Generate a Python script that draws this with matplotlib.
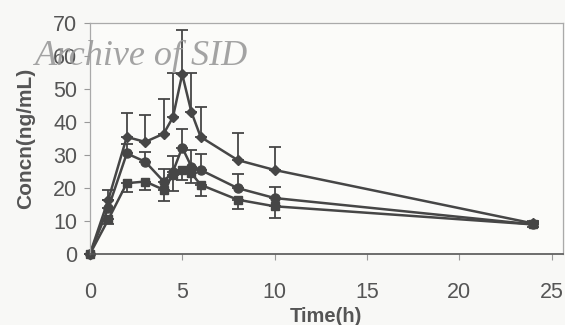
import matplotlib
matplotlib.use("Agg")
import matplotlib.pyplot as plt

time_h = [0, 1, 2, 3, 4, 4.5, 5, 5.5, 6, 8, 10, 24]

upper = [0, 16.5, 35.5, 34, 36.5, 41.5, 54.5, 43, 35.5, 28.5, 25.5, 9.3]
upper_err = [0, 3, 7.4, 8.2, 10.5, 13.5, 13.5, 12, 9.2, 8.3, 7.1, 0.8]

middle = [0, 14, 30.5, 28, 22, 25, 32.3, 26.5, 25.5, 20, 17, 9]
middle_err = [0, 2.5, 3, 3, 3.7, 4.6, 5.5, 5.2, 4.7, 4.4, 3.2, 0.8]

lower = [0, 10.5, 21.5, 22, 19.5, 24, 25.5, 24.5, 21, 16.5, 14.5, 9]
lower_err = [0, 1.5, 2.8, 2.7, 3.5, 5, 3, 3, 3.3, 2.7, 3.5, 0.8]

x_ticks = [0, 5, 10, 15, 20, 25]
y_ticks = [0, 10, 20, 30, 40, 50, 60, 70]

c = "#464646"
fig = plt.figure(figsize=(5.65, 3.25), dpi=100, facecolor="#f8f8f6")
ax = fig.add_axes([0.159, 0.218, 0.837, 0.711])
ax.set_facecolor("#fbfbf9")

zeros = [0] * len(time_h)
for vals, err, mk, ms in [(upper, [zeros, upper_err], "D", 5.5),
                          (middle, [zeros, middle_err], "o", 6.5),
                          (lower, [lower_err, zeros], "s", 6)]:
    cont = ax.errorbar(time_h, vals, yerr=err, color=c, lw=1.8,
                       marker=mk, ms=ms, capsize=4, elinewidth=1.3, capthick=1.3)
    for art in cont.get_children():
        art.set_clip_on(False)

ax.set_xlim(0, 25.6)
ax.set_ylim(0, 70)
ax.set_xticks(x_ticks)
ax.set_yticks(y_ticks)
for lab in ax.get_xticklabels() + ax.get_yticklabels():
    lab.set_fontfamily("Liberation Sans")
    lab.set_fontsize(15.5)
    lab.set_color("#555555")
ax.tick_params(axis="both", colors="#999999", length=4, width=0.8, labelcolor="#555555")
ax.tick_params(axis="x", pad=16)
ax.tick_params(axis="y", pad=5)

for side in ["left", "top", "right"]:
    ax.spines[side].set_color("#aaaaaa")
    ax.spines[side].set_linewidth(0.9)
ax.spines["bottom"].set_color("#555555")
ax.spines["bottom"].set_linewidth(1.2)

ax.set_xlabel("Time(h)", fontfamily="Liberation Sans", fontweight="bold",
              fontsize=14.5, color="#555555", labelpad=3)
ax.set_ylabel("Concn(ng/mL)", fontfamily="Liberation Sans", fontweight="bold",
              fontsize=15, color="#555555", labelpad=13)

fig.text(0.062, 0.80, "Archive of SID", fontfamily="Liberation Serif",
         fontstyle="italic", fontsize=26, color="#9a9a9a", alpha=0.9)

fig.savefig("out.png", dpi=100, facecolor=fig.get_facecolor())
